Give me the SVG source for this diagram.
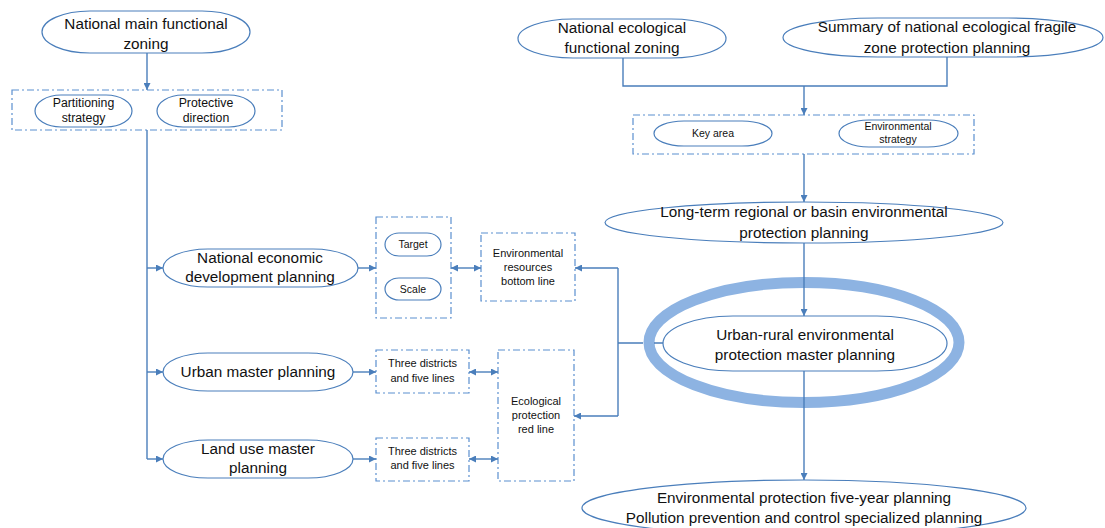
<svg xmlns="http://www.w3.org/2000/svg" width="1105" height="528" viewBox="0 0 1105 528">
<defs>
<marker id="ah" viewBox="0 0 10 10" refX="10" refY="5" markerWidth="7" markerHeight="7" orient="auto-start-reverse" markerUnits="userSpaceOnUse">
<path d="M0,0 L10,5 L0,10 z" fill="#4a7ebb"/>
</marker>
<style>
.n{fill:#fff;stroke:#4a7ebb;stroke-width:1.2}
.d{fill:#fff;stroke:#5b8fcf;stroke-width:1.2;stroke-dasharray:7 3 2 3}
.c{fill:none;stroke:#4a7ebb;stroke-width:1.4}
.a{marker-end:url(#ah)}
.b{marker-start:url(#ah);marker-end:url(#ah)}
text{font-family:"Liberation Sans",Arial,sans-serif;fill:#111;text-anchor:middle}
.L{font-size:15.3px}
.S{font-size:11px}
.T{font-size:10.5px}
.M{font-size:12.3px}
</style>
</defs>
<rect width="1105" height="528" fill="#fff"/>

<g id="nmfz">
<rect class="n" x="42" y="11" width="208" height="42" rx="48" ry="21"/>
<text class="L" x="146" y="29">National main functional</text>
<text class="L" x="146" y="49">zoning</text>
</g>
<g id="box-partition">
<rect class="d" x="12" y="90" width="270" height="40"/>
<rect class="n" x="35" y="95" width="97" height="32" rx="26" ry="16"/>
<text class="M" x="83.5" y="107">Partitioning</text>
<text class="M" x="83.5" y="122">strategy</text>
<rect class="n" x="157" y="95" width="98" height="32" rx="26" ry="16"/>
<text class="M" x="206" y="107">Protective</text>
<text class="M" x="206" y="122">direction</text>
</g>
<g id="econ">
<rect class="n" x="163" y="249" width="195" height="38" rx="45" ry="19"/>
<text class="L" x="260" y="263">National economic</text>
<text class="L" x="260" y="282">development planning</text>
</g>
<g id="box-target">
<rect class="d" x="376" y="217" width="75" height="101"/>
<rect class="n" x="385" y="233" width="56" height="23" rx="14" ry="11.5"/>
<text class="T" x="413" y="248">Target</text>
<rect class="n" x="385" y="278" width="56" height="22" rx="14" ry="11"/>
<text class="T" x="413" y="293">Scale</text>
</g>
<g id="env-bottom">
<rect class="d" x="481" y="233" width="94" height="68"/>
<text class="S" x="528" y="257">Environmental</text>
<text class="S" x="528" y="271">resources</text>
<text class="S" x="528" y="285">bottom line</text>
</g>
<g id="urban">
<rect class="n" x="163" y="353" width="190" height="38" rx="45" ry="19"/>
<text class="L" x="258" y="377">Urban master planning</text>
</g>
<g id="tdfl1">
<rect class="d" x="376" y="350" width="93" height="43"/>
<text class="S" x="422.5" y="367">Three districts</text>
<text class="S" x="422.5" y="382">and five lines</text>
</g>
<g id="eco-red">
<rect class="d" x="498" y="350" width="76" height="131"/>
<text class="S" x="536" y="405">Ecological</text>
<text class="S" x="536" y="419">protection</text>
<text class="S" x="536" y="433">red line</text>
</g>
<g id="land">
<rect class="n" x="163" y="440" width="190" height="38" rx="45" ry="19"/>
<text class="L" x="258" y="454">Land use master</text>
<text class="L" x="258" y="473">planning</text>
</g>
<g id="tdfl2">
<rect class="d" x="376" y="438" width="93" height="43"/>
<text class="S" x="422.5" y="455">Three districts</text>
<text class="S" x="422.5" y="469">and five lines</text>
</g>
<g id="nefz">
<rect class="n" x="518" y="19" width="208" height="39" rx="55" ry="19.5"/>
<text class="L" x="622" y="33">National ecological</text>
<text class="L" x="622" y="53">functional zoning</text>
</g>
<g id="summary">
<rect class="n" x="783" y="18" width="320" height="39" rx="95" ry="19.5"/>
<text class="L" x="947" y="32">Summary of national ecological fragile</text>
<text class="L" x="947" y="53">zone protection planning</text>
</g>
<g id="box-key">
<rect class="d" x="633" y="115" width="341" height="39"/>
<rect class="n" x="654" y="121" width="118" height="25" rx="30" ry="12.5"/>
<text class="T" x="713" y="137">Key area</text>
<rect class="n" x="839" y="120" width="119" height="27" rx="30" ry="13.5"/>
<text class="T" x="898" y="130">Environmental</text>
<text class="T" x="898" y="143">strategy</text>
</g>
<g id="longterm">
<ellipse class="n" cx="804" cy="222.5" rx="199" ry="20.5"/>
<text class="L" x="804" y="217">Long-term regional or basin environmental</text>
<text class="L" x="804" y="238">protection planning</text>
</g>
<g id="urban-rural">
<ellipse cx="804" cy="342.5" rx="155" ry="60" fill="none" stroke="#8db3e2" stroke-width="11"/>
<rect class="n" x="663" y="316" width="284" height="55" rx="70" ry="27.5"/>
<text class="L" x="805" y="340">Urban-rural environmental</text>
<text class="L" x="805" y="360">protection master planning</text>
</g>
<g id="fiveyear">
<ellipse class="n" cx="804" cy="508" rx="222" ry="28"/>
<text class="L" x="804" y="503">Environmental protection five-year planning</text>
<text class="L" x="804" y="523">Pollution prevention and control specialized planning</text>
</g>

<g id="connectors">
<path class="c a" d="M147,53 V90"/>
<path class="c" d="M147,130 V459"/>
<path class="c a" d="M147,268 H163"/>
<path class="c a" d="M147,372 H163"/>
<path class="c a" d="M147,459 H163"/>
<path class="c a" d="M358,268 H376"/>
<path class="c b" d="M451,268 H481"/>
<path class="c a" d="M353,372 H376"/>
<path class="c b" d="M469,372 H498"/>
<path class="c a" d="M353,459 H376"/>
<path class="c b" d="M469,459 H498"/>
<path class="c" d="M623,58 V86 H947 V57"/>
<path class="c a" d="M804,86 V115"/>
<path class="c a" d="M804,154 V202"/>
<path class="c a" d="M804,243 V316"/>
<path class="c a" d="M804,371 V480"/>
<path class="c" d="M663,343 H654 M643,343 H618"/>
<path class="c a" d="M618,268 H575"/>
<path class="c a" d="M618,416 H574"/>
<path class="c" d="M618,268 V416"/>
</g>
</svg>
